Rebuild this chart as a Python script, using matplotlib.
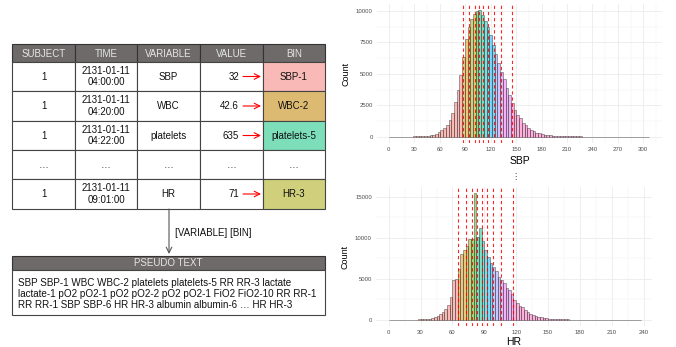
import numpy as np
import matplotlib
matplotlib.use('Agg')
import matplotlib.pyplot as plt
from matplotlib.patches import Rectangle

plt.rcParams['font.family'] = ['Liberation Sans', 'DejaVu Sans']

# ---- table data ----
table_header = ['SUBJECT', 'TIME', 'VARIABLE', 'VALUE', 'BIN']
subjects = ['1', '1', '1', '…', '1']
times = ['2131-01-11\n04:00:00', '2131-01-11\n04:20:00', '2131-01-11\n04:22:00', '…', '2131-01-11\n09:01:00']
variables = ['SBP', 'WBC', 'platelets', '…', 'HR']
values = ['32', '42.6', '635', '…', '71']
bins = ['SBP-1', 'WBC-2', 'platelets-5', '…', 'HR-3']
bin_colors = ['#F9BAB7', '#DDBA72', '#7DDFBA', None, '#CFCF7C']

pseudo_lines = [
    'SBP SBP-1 WBC WBC-2 platelets platelets-5 RR RR-3 lactate',
    'lactate-1 pO2 pO2-1 pO2 pO2-2 pO2 pO2-1 FiO2 FiO2-10 RR RR-1',
    'RR RR-1 SBP SBP-6 HR HR-3 albumin albumin-6 … HR HR-3',
]

# ---- histogram data ----
sbp_bw = 3.2
sbp_counts = [15, 8, 8, 8, 8, 10, 10, 12, 15, 18, 22, 30, 40, 55, 80, 110, 160, 240,
              340, 500, 690, 950, 1350, 1880, 2750, 3700, 4920, 6330, 7780, 8760, 9340,
              9770, 10000, 10050, 9670, 9220, 8760, 8100, 7300, 6600, 5850, 5150, 4550,
              3900, 3350, 2700, 2150, 1750, 1450, 1100, 900, 680, 530, 430, 330, 260, 200,
              160, 120, 100, 80, 65, 55, 45, 40, 35, 30, 25, 22, 20, 18, 15, 12, 10, 10,
              9, 9, 8, 8, 8, 8, 8, 8, 8, 8, 8, 8, 8, 8, 8, 8, 8, 8, 8, 8, 8]
sbp_cuts = [87.8, 94.6, 101.0, 106.3, 111.2, 117.3, 124.2, 132.3, 145.3]

hr_bw = 2.5
hr_counts = [10, 8, 8, 8, 8, 8, 8, 10, 10, 12, 18, 25, 40, 60, 90, 130, 200, 330, 490,
             690, 900, 1300, 1830, 2770, 4850, 4960, 6180, 8050, 8460, 9020, 9840, 9900,
             15450, 10160, 11260, 9630, 8460, 7720, 6990, 6500, 5900, 5280, 4880, 4470,
             3860, 3660, 3130, 2440, 2030, 1710, 1500, 1140, 900, 700, 560, 450, 360, 280,
             220, 170, 130, 100, 80, 60, 50, 40, 30, 25, 20, 18, 15, 12, 10, 10, 9, 9, 8,
             8, 8, 8, 8, 8, 8, 8, 8, 8, 8, 8, 8, 8, 8, 8, 8, 8, 8]
hr_cuts = [65.5, 72.5, 78.2, 82.9, 87.6, 92.9, 98.6, 105.9, 116.9]

hue10 = ['#F8766D', '#D89000', '#A3A500', '#39B600', '#00BF7D',
         '#00BFC4', '#00B0F6', '#9590FF', '#E76BF3', '#FF62BC']

fig = plt.figure(figsize=(6.76, 3.47), dpi=100)

# ---- left diagram (pixel coordinates) ----
ax0 = fig.add_axes([0, 0, 1, 1])
ax0.set_xlim(0, 676)
ax0.set_ylim(347, 0)
ax0.axis('off')

col_edges = [12, 75, 137, 200, 263, 325]
row_edges = [44, 62, 91, 121, 150, 179, 209]
header_bg = '#6E6A6A'
header_fg = '#E6E6E6'
line_col = '#444444'
fs = 7

# header
for j, h in enumerate(table_header):
    x0, x1 = col_edges[j], col_edges[j + 1]
    ax0.add_patch(Rectangle((x0, row_edges[0]), x1 - x0, row_edges[1] - row_edges[0],
                            facecolor=header_bg, edgecolor='#333333', lw=0.8))
    ax0.text((x0 + x1) / 2, (row_edges[0] + row_edges[1]) / 2 + 0.5, h, color=header_fg,
             fontsize=fs, ha='center', va='center')

cols = [subjects, times, variables, values, bins]
for i in range(len(subjects)):
    y0, y1 = row_edges[i + 1], row_edges[i + 2]
    yc = (y0 + y1) / 2
    for j in range(5):
        x0, x1 = col_edges[j], col_edges[j + 1]
        fc = 'white'
        if j == 4 and bin_colors[i] is not None:
            fc = bin_colors[i]
        ax0.add_patch(Rectangle((x0, y0), x1 - x0, y1 - y0, facecolor=fc,
                                edgecolor=line_col, lw=0.8))
        txt = cols[j][i]
        if j == 3 and txt != '…':
            ax0.text(239, yc, txt, fontsize=fs, ha='right', va='center', color='#111111')
            ax0.annotate('', xy=(261, yc), xytext=(243, yc),
                         arrowprops=dict(arrowstyle='->', color='red', lw=0.8,
                                         shrinkA=0, shrinkB=0))
        else:
            ax0.text((x0 + x1) / 2, yc, txt, fontsize=fs, ha='center', va='center',
                     color='#111111', linespacing=1.15)

# connector arrow
ax0.annotate('', xy=(169, 254), xytext=(169, 209),
             arrowprops=dict(arrowstyle='->', color='#555555', lw=0.8, shrinkA=0, shrinkB=0))
ax0.text(175, 233, '[VARIABLE] [BIN]', fontsize=fs, ha='left', va='center', color='#111111')

# pseudo text box
ax0.add_patch(Rectangle((12, 256), 313, 14, facecolor=header_bg, edgecolor='#333333', lw=0.8))
ax0.text(168.5, 263.5, 'PSEUDO TEXT', fontsize=fs, ha='center', va='center', color=header_fg)
ax0.add_patch(Rectangle((12, 270), 313, 45, facecolor='white', edgecolor=line_col, lw=0.8))
for k, line in enumerate(pseudo_lines):
    ax0.text(18, 283.5 + k * 10.5, line, fontsize=7.1, ha='left', va='center', color='#111111')

ax0.text(515, 176, '⋮', fontsize=6, ha='center', va='center', color='#333333',
         family='DejaVu Sans')


def draw_hist(ax, counts, bw, cuts, xmajor, ymajor, xlim, ylim, xlabel, xpad):
    counts = np.array(counts, dtype=float)
    centers = bw / 2 + bw * np.arange(len(counts))
    seg = np.searchsorted(cuts, centers)
    fills = [matplotlib.colors.to_rgba(hue10[s], 0.5) for s in seg]
    ax.set_xlim(*xlim)
    ax.set_ylim(*ylim)
    xstep = xmajor[1] - xmajor[0]
    ystep = ymajor[1] - ymajor[0]
    for v in xmajor:
        ax.axvline(v, color='#EBEBEB', lw=0.6, zorder=0)
    for v in np.arange(xmajor[0] - xstep / 2, xlim[1], xstep):
        if xlim[0] < v < xlim[1]:
            ax.axvline(v, color='#F2F2F2', lw=0.35, zorder=0)
    for v in ymajor:
        ax.axhline(v, color='#EBEBEB', lw=0.6, zorder=0)
    for v in np.arange(ymajor[0] + ystep / 2, ylim[1], ystep):
        ax.axhline(v, color='#F2F2F2', lw=0.35, zorder=0)
    ax.bar(centers, counts, width=bw, color=fills, edgecolor=(0.15, 0.15, 0.15, 0.65),
           linewidth=0.45, zorder=2)
    for c in cuts:
        ax.axvline(c, color='red', ls=(0, (3, 2.5)), lw=0.8, alpha=0.85, zorder=3)
    ax.set_xticks(xmajor)
    ax.set_yticks(ymajor)
    ax.tick_params(length=0, labelsize=4.3, labelcolor='#4D4D4D', pad=3)
    for s in ax.spines.values():
        s.set_visible(False)
    ax.set_facecolor('white')
    ax.set_xlabel(xlabel, fontsize=7.5, labelpad=xpad)
    ax.set_ylabel('Count', fontsize=6.5, labelpad=4)


ax1 = fig.add_axes([0.5577, 0.5879, 0.4216, 0.4006])
draw_hist(ax1, sbp_counts, sbp_bw, sbp_cuts, list(range(0, 301, 30)),
          [0, 2500, 5000, 7500, 10000], (-14, 322), (-500, 10550), 'SBP', 3)

ax2 = fig.add_axes([0.5562, 0.0605, 0.4083, 0.4006])
draw_hist(ax2, hr_counts, hr_bw, hr_cuts, list(range(0, 241, 30)),
          [0, 5000, 10000, 15000], (-12, 248), (-772, 16222), 'HR', 1.5)

fig.savefig('out.png', dpi=100)
